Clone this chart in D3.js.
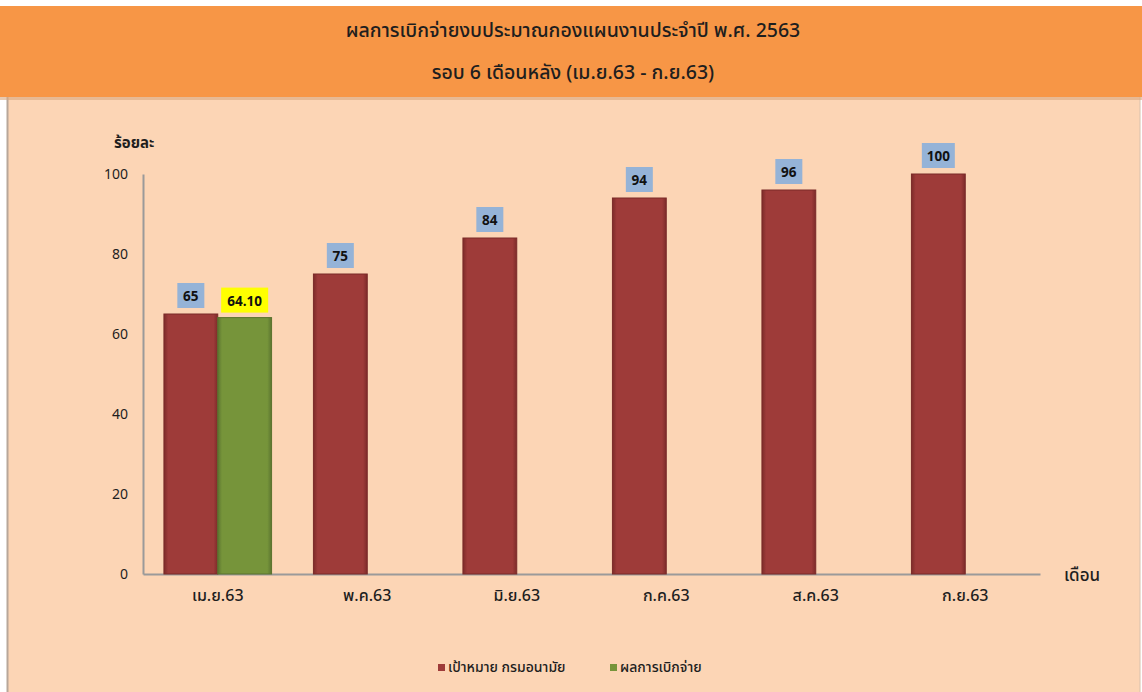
<!DOCTYPE html>
<html><head><meta charset="utf-8">
<script src="https://cdn.jsdelivr.net/npm/d3@7"></script>
<style>
body{margin:0;background:#fff;}
svg text{font-family:Tahoma,"Noto Sans Thai","Noto Sans","DejaVu Sans",sans-serif;}
</style></head>
<body><svg id="c" width="1142" height="692"></svg>
<script>
const categories = ["เม.ย.63","พ.ค.63","มิ.ย.63","ก.ค.63","ส.ค.63","ก.ย.63"];
const targetValues = [65,75,84,94,96,100];
const resultValues = [64.10,null,null,null,null,null];
const seriesNames = ["เป้าหมาย กรมอนามัย","ผลการเบิกจ่าย"];
const yTicks = [0,20,40,60,80,100];
const titleLines = ["ผลการเบิกจ่ายงบประมาณกองแผนงานประจำปี พ.ศ. 2563","รอบ 6 เดือนหลัง (เม.ย.63 - ก.ย.63)"];

const svg = d3.select("#c");
// background panels
svg.append("rect").attr("x",7).attr("y",97).attr("width",1133).attr("height",600).attr("fill","#FCD5B5");
svg.append("line").attr("x1",7.5).attr("x2",7.5).attr("y1",97).attr("y2",692).attr("stroke","#b8a79a").attr("stroke-width",2);
svg.append("line").attr("x1",1140).attr("x2",1140).attr("y1",97).attr("y2",692).attr("stroke","#d8c0ac").attr("stroke-width",1);
svg.append("rect").attr("x",0).attr("y",97).attr("width",1142).attr("height",3).attr("fill","#d9a77f").attr("opacity",0.6);
svg.append("rect").attr("x",0).attr("y",6).attr("width",1142).attr("height",91).attr("fill","#F79646");

svg.selectAll("text.title").data(titleLines).join("text")
  .attr("x",573).attr("y",(d,i)=>37+i*42).attr("text-anchor","middle")
  .attr("font-size",19.5).attr("font-weight",500).attr("fill","#1e1e1e").text(d=>d);

const x0 = d3.scaleBand().domain(categories).range([143,1040]).paddingInner(0.28).paddingOuter(0.14);
const x1 = d3.scaleBand().domain([0,1]).range([0,x0.bandwidth()]);
const y = d3.scaleLinear().domain([0,100]).range([574,174]);

// y axis
const yAxis = svg.append("g").attr("transform","translate(143,0)")
  .call(d3.axisLeft(y).tickValues(yTicks).tickSize(0).tickPadding(15));
yAxis.select(".domain").attr("stroke","#9a9a9a").attr("stroke-width",2);
yAxis.selectAll("text").attr("font-size",14).attr("fill","#1e1e1e");

// x axis
const xAxis = svg.append("g").attr("transform","translate(0,574)")
  .call(d3.axisBottom(x0).tickSize(0).tickPadding(16));
xAxis.select(".domain").attr("stroke","#9a9a9a").attr("stroke-width",2);
xAxis.selectAll("text").attr("font-size",16).attr("font-weight",500).attr("fill","#1e1e1e");

svg.append("text").attr("x",114).attr("y",148).attr("font-size",15).attr("font-weight","bold").attr("fill","#1e1e1e").text("ร้อยละ");
svg.append("text").attr("x",1064).attr("y",581).attr("font-size",17).attr("font-weight",500).attr("fill","#1e1e1e").text("เดือน");

const defs = svg.append("defs");
function grad(id,c1,c2){
  const g = defs.append("linearGradient").attr("id",id).attr("x1","0").attr("x2","1").attr("y1","0").attr("y2","0");
  g.append("stop").attr("offset","0").attr("stop-color",c2);
  g.append("stop").attr("offset","0.08").attr("stop-color",c1);
  g.append("stop").attr("offset","0.92").attr("stop-color",c1);
  g.append("stop").attr("offset","1").attr("stop-color",c2);
}
grad("gr","#9E3B39","#7d2b29");
grad("gg","#76943A","#5b7530");

const g = svg.append("g");
// target bars
g.selectAll("rect.t").data(targetValues).join("rect")
  .attr("x",(d,i)=>x0(categories[i])+x1(0)).attr("width",x1.bandwidth())
  .attr("y",d=>y(d)).attr("height",d=>y(0)-y(d))
  .attr("fill","url(#gr)").attr("stroke","#7a2a28").attr("stroke-width",1);
// result bars
const res = resultValues.map((v,i)=>({v,i})).filter(d=>d.v!=null);
g.selectAll("rect.r").data(res).join("rect")
  .attr("x",d=>x0(categories[d.i])+x1(1)).attr("width",x1.bandwidth())
  .attr("y",d=>y(d.v)).attr("height",d=>y(0)-y(d.v))
  .attr("fill","url(#gg)").attr("stroke","#5a722e").attr("stroke-width",1);

// labels
function label(cx, val, text, fill, w, off){
  const top = y(val);
  g.append("rect").attr("x",cx-w/2).attr("y",top-off).attr("width",w).attr("height",25).attr("fill",fill);
  g.append("text").attr("x",cx).attr("y",top-off+18).attr("text-anchor","middle")
    .attr("font-size",13.5).attr("font-weight","bold").attr("fill","#111").text(text);
}
targetValues.forEach((v,i)=>{
  const cx = x0(categories[i])+x1(0)+x1.bandwidth()/2;
  label(cx, v, String(v), "#95B3D7", v>=100?33:27, 31);
});
res.forEach(d=>{
  const cx = x0(categories[d.i])+x1(1)+x1.bandwidth()/2;
  label(cx, d.v, d.v.toFixed(2), "#FFFF00", 47, 30);
});

// legend
const legX = [438, 610];
const legColors = ["#9E3B39","#76943A"];
seriesNames.forEach((n,i)=>{
  svg.append("rect").attr("x",legX[i]).attr("y",664).attr("width",7).attr("height",7).attr("fill",legColors[i]);
  svg.append("text").attr("x",legX[i]+10).attr("y",672).attr("font-size",14).attr("font-weight",500).attr("fill","#1e1e1e").text(n);
});
</script></body></html>
